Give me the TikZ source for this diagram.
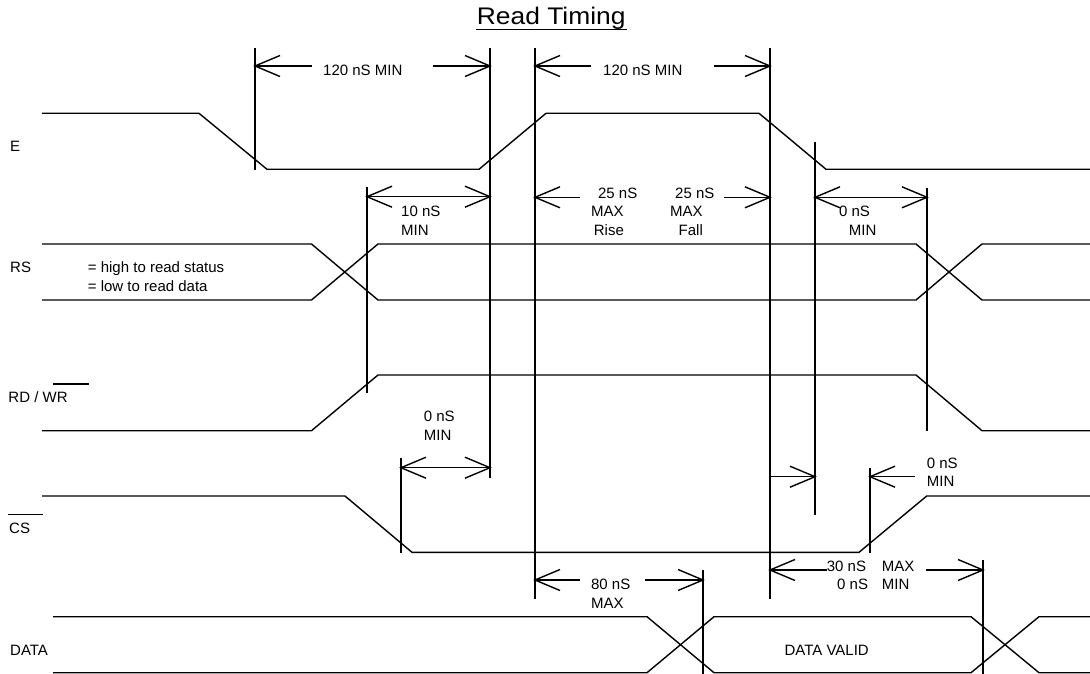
\documentclass[tikz,border=0pt]{standalone}
\usepackage{fontspec}
\usepackage{graphicx}
\setmainfont{Liberation Sans}
\begin{document}
\begin{tikzpicture}[x=1pt,y=-1pt,
  sig/.style={line width=1.4pt, line join=miter},
  vline/.style={line width=1.7pt},
  dimline/.style={line width=1.4pt},
  ovl/.style={line width=1.3pt},
  lbl/.style={inner sep=0pt, anchor=base west, font=\fontsize{15}{18}\selectfont},
  ahl/.pic={\draw[dimline] (25,-10.5) -- (0,0) -- (25,10.5);},
  ahr/.pic={\draw[dimline] (-25,-10.5) -- (0,0) -- (-25,10.5);}
]
\useasboundingbox (0,0) rectangle (1090,674);

% title
\node[anchor=base west, inner sep=0pt] (title) at (476.7,25)
  {\fontsize{24}{28}\selectfont\scalebox{1.1}[1]{Read Timing}};
\draw[line width=1.8pt] (476,29.5) -- (627,29.5);

% signal labels
\node[lbl] (tE) at (10,151.7) {E};
\node[lbl] (tRS) at (10,272.7) {RS};
\node[lbl] (tRSa) at (87.7,272.7) {= high to read status};
\node[lbl] (tRSb) at (87.7,291.7) {= low to read data};
\node[lbl] (tRD) at (8.3,402.7) {RD / WR};
\draw[ovl] (53.3,384) -- (88.7,384);
\node[lbl] (tCS) at (9,533) {CS};
\draw[ovl] (8.3,514.3) -- (43.3,514.3);
\node[lbl] (tDATA) at (10,655) {DATA};
\node[lbl, anchor=base] (tDV) at (826.7,655) {DATA VALID};

% E
\draw[sig] (42,113.3) -- (199,113.3) -- (267,169.3) -- (479,169.3) -- (546,113.3)
  -- (759,113.3) -- (826,169.3) -- (1090,169.3);
% RS
\draw[sig] (42,244) -- (311.5,244) -- (378,300) -- (916,300) -- (982,244) -- (1090,244);
\draw[sig] (42,300) -- (311.5,300) -- (378,244) -- (916,244) -- (982,300) -- (1090,300);
% RD / WR
\draw[sig] (42,430.7) -- (311.5,430.7) -- (378,375) -- (916,375) -- (982,430.7) -- (1090,430.7);
% CS
\draw[sig] (42,496) -- (345,496) -- (412,552.3) -- (859,552.3) -- (926.7,496) -- (1090,496);
% DATA
\draw[sig] (53,616.7) -- (647,616.7) -- (714,672.7) -- (971,672.7) -- (1039,616.7) -- (1090,616.7);
\draw[sig] (53,672.7) -- (647,672.7) -- (714,616.7) -- (971,616.7) -- (1039,672.7) -- (1090,672.7);

% vertical reference lines
\draw[vline] (255,48) -- (255,170);
\draw[vline] (490,48) -- (490,478.3);
\draw[vline] (535,48) -- (535,599.3);
\draw[vline] (770,48) -- (770,599.3);
\draw[vline] (815,141.7) -- (815,515);
\draw[vline] (927,188) -- (927,431);
\draw[vline] (367,187) -- (367,393);
\draw[vline] (401,458.3) -- (401,552.7);
\draw[vline] (870,468.3) -- (870,553.3);
\draw[vline] (983,560) -- (983,674);
\draw[vline] (703,570) -- (703,674);

% 120 nS MIN (1)
\draw[dimline] (255,66) -- (312,66);
\draw[dimline] (433,66) -- (490,66);
\pic at (255,66) {ahl};
\pic at (490,66) {ahr};
\node[lbl] (t120a) at (323,76) {120 nS MIN};

% 120 nS MIN (2)
\draw[dimline] (535,66) -- (591,66);
\draw[dimline] (714,66) -- (770,66);
\pic at (535,66) {ahl};
\pic at (770,66) {ahr};
\node[lbl] (t120b) at (603,76) {120 nS MIN};

% 10 nS MIN
\draw[dimline] (367,196.7) -- (490,196.7);
\pic at (367,196.7) {ahl};
\pic at (490,196.7) {ahr};
\node[lbl] (t10a) at (401,216.7) {10 nS};
\node[lbl] (t10b) at (401,235) {MIN};

% 25 nS rise / fall
\draw[dimline] (535,197.3) -- (580,197.3);
\draw[dimline] (724,197.3) -- (770,197.3);
\pic at (535,197.3) {ahl};
\pic at (770,197.3) {ahr};
\node[lbl] (t25a) at (597.9,198.3) {25 nS};
\node[lbl] (t25b) at (590.9,216) {MAX};
\node[lbl] (t25c) at (593.7,235) {Rise};
\node[lbl] (t25d) at (675,198.3) {25 nS};
\node[lbl] (t25e) at (669.8,216) {MAX};
\node[lbl] (t25f) at (678.5,235) {Fall};

% 0 nS MIN (RS hold)
\draw[dimline] (815,197.3) -- (927,197.3);
\pic at (815,197.3) {ahl};
\pic at (927,197.3) {ahr};
\node[lbl] (t0a) at (838.8,216) {0 nS};
\node[lbl] (t0b) at (848.7,235) {MIN};

% 0 nS MIN (CS setup)
\draw[dimline] (401,467.7) -- (490,467.7);
\pic at (401,467.7) {ahl};
\pic at (490,467.7) {ahr};
\node[lbl] (t0c) at (423.7,421.7) {0 nS};
\node[lbl] (t0d) at (423.7,440) {MIN};

% 0 nS MIN (CS hold)
\draw[dimline] (770,476.7) -- (815,476.7);
\pic at (815,476.7) {ahr};
\draw[dimline] (870,476.7) -- (915,476.7);
\pic at (870,476.7) {ahl};
\node[lbl] (t0e) at (926.7,468.3) {0 nS};
\node[lbl] (t0f) at (926.7,486.7) {MIN};

% 30 nS MAX / 0 nS MIN
\draw[dimline] (770,570) -- (826.7,570);
\draw[dimline] (926,570) -- (983,570);
\pic at (770,570) {ahl};
\pic at (983,570) {ahr};
\node[lbl] (t30a) at (826.7,571.7) {30 nS};
\node[lbl] (t30b) at (881.7,571.7) {MAX};
\node[lbl] (t30c) at (837,589.3) {0 nS};
\node[lbl] (t30d) at (881.7,589.3) {MIN};

% 80 nS MAX
\draw[dimline] (535,580) -- (580,580);
\draw[dimline] (645,580) -- (703,580);
\pic at (535,580) {ahl};
\pic at (703,580) {ahr};
\node[lbl] (t80a) at (590.9,589.3) {80 nS};
\node[lbl] (t80b) at (590.9,608) {MAX};
\end{tikzpicture}
\end{document}
